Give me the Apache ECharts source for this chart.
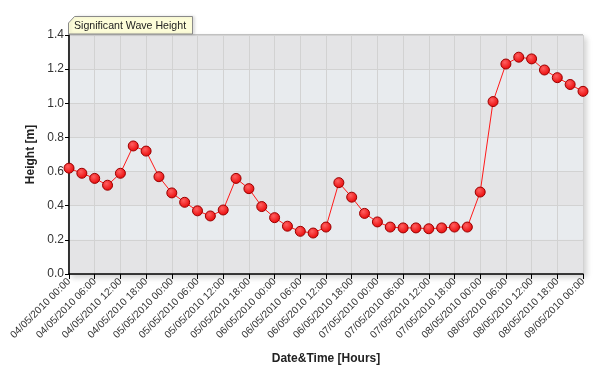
<!DOCTYPE html>
<html>
<head>
<meta charset="utf-8">
<script src="https://cdn.jsdelivr.net/npm/echarts@6/dist/echarts.min.js"></script>
<style>html,body{margin:0;padding:0;background:#fff}#c{width:600px;height:370px}</style>
</head>
<body>
<div id="c"></div>
<script>
// 3-hourly timestamps from 04/05/2010 00:00 to 09/05/2010 00:00
const days = ['04/05/2010', '05/05/2010', '06/05/2010', '07/05/2010', '08/05/2010', '09/05/2010'];
const hours = ['00:00', '03:00', '06:00', '09:00', '12:00', '15:00', '18:00', '21:00'];
const categories = [];
days.forEach((d, i) => {
  hours.forEach(h => {
    if (i < days.length - 1 || h === '00:00') categories.push(d + ' ' + h);
  });
});
const seriesName = 'Significant Wave Height';
const waveHeight = [
  0.62, 0.59, 0.56, 0.52, 0.59, 0.75, 0.72, 0.57,
  0.475, 0.42, 0.37, 0.34, 0.375, 0.56, 0.50, 0.395,
  0.33, 0.28, 0.25, 0.24, 0.275, 0.535, 0.45, 0.355,
  0.305, 0.275, 0.27, 0.27, 0.265, 0.27, 0.275, 0.275,
  0.48, 1.01, 1.23, 1.27, 1.26, 1.195, 1.15, 1.11,
  1.07
];
const yTicks = [0, 0.2, 0.4, 0.6, 0.8, 1.0, 1.2, 1.4];

const chart = echarts.init(document.getElementById('c'), null, {renderer: 'canvas'});
const FONT = 'Liberation Sans, Arial, sans-serif';
chart.setOption({
  animation: false,
  grid: {
    left: 69, right: 17, top: 35, bottom: 96,
    containLabel: false,
    outerBoundsMode: 'none',
    show: true,
    backgroundColor: '#e4e4e6',
    borderColor: '#8a8a8a',
    borderWidth: 1,
    shadowColor: 'rgba(0,0,0,0.18)',
    shadowBlur: 6,
    shadowOffsetX: 3,
    shadowOffsetY: 3
  },
  graphic: [{
    type: 'polygon',
    z: 1,
    shape: { points: [[68.5, 34], [68.5, 23], [74.5, 16.5], [192.5, 16.5], [192.5, 34]] },
    style: { fill: '#fdfdd9', stroke: '#8a8a8a', lineWidth: 1, shadowColor: 'rgba(0,0,0,0.12)', shadowBlur: 3, shadowOffsetX: 2 }
  }],
  legend: {
    show: true,
    left: 69, top: 21,
    itemWidth: 0, itemHeight: 0,
    icon: 'none',
    itemGap: 0,
    padding: 0,
    selectedMode: false,
    textStyle: { fontFamily: FONT, fontSize: 10.6, color: '#222', padding: [0, 0, 0, 0] },
    data: [seriesName],
    z: 5
  },
  xAxis: {
    type: 'category',
    data: categories,
    boundaryGap: false,
    name: 'Date&Time [Hours]',
    nameLocation: 'middle',
    nameGap: 79,
    nameTextStyle: { fontFamily: FONT, fontSize: 12, fontWeight: 'bold', color: '#222' },
    axisLine: { lineStyle: { color: '#000', width: 1.5 } },
    axisTick: { interval: 1, length: 5, lineStyle: { color: '#000' } },
    axisLabel: { interval: 1, rotate: 45, fontFamily: FONT, fontSize: 10.3, color: '#333', margin: 6 },
    splitLine: { show: true, interval: 1, lineStyle: { color: '#d2d2d2', width: 1 } }
  },
  yAxis: {
    type: 'value',
    min: 0, max: 1.4, interval: 0.2,
    name: 'Height [m]',
    nameLocation: 'middle',
    nameGap: 30,
    nameTextStyle: { fontFamily: FONT, fontSize: 12, fontWeight: 'bold', color: '#222' },
    axisLine: { show: true, lineStyle: { color: '#000', width: 1.5 } },
    axisTick: { show: true, length: 4, lineStyle: { color: '#000' } },
    axisLabel: {
      fontFamily: FONT, fontSize: 12, color: '#333', margin: 5,
      formatter: v => { const t = yTicks.find(x => Math.abs(x - v) < 1e-9); return (t !== undefined ? t : v).toFixed(1); }
    },
    splitLine: { show: true, lineStyle: { color: '#d2d2d2', width: 1 } },
    splitArea: { show: true, areaStyle: { color: ['#e4e4e6', '#e8ebee'] } }
  },
  series: [{
    name: seriesName,
    type: 'line',
    data: waveHeight,
    symbol: 'circle',
    symbolSize: 10,
    showAllSymbol: true,
    lineStyle: { color: '#ff1a1a', width: 1 },
    itemStyle: {
      color: new echarts.graphic.RadialGradient(0.4, 0.35, 0.7, [
        { offset: 0, color: '#ff6060' },
        { offset: 1, color: '#e80000' }
      ]),
      borderColor: '#9a0000',
      borderWidth: 1
    },
    z: 3
  }]
});
</script>
</body>
</html>
